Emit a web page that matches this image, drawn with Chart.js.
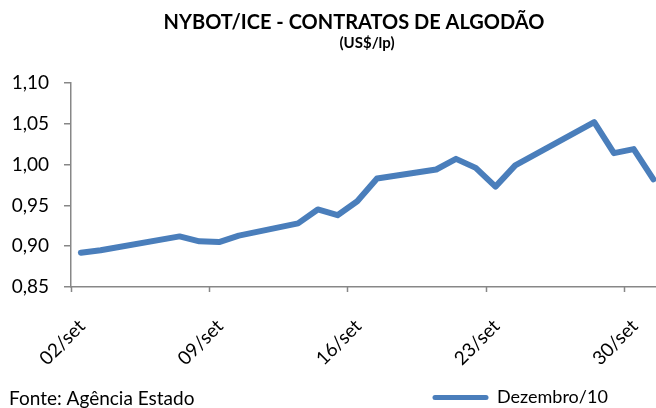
<!DOCTYPE html>
<html>
<head>
<meta charset="utf-8">
<script src="https://cdn.jsdelivr.net/npm/chart.js@4.4.0/dist/chart.umd.min.js"></script>
<style>
  html, body { margin: 0; padding: 0; background: #fff; overflow: hidden; }
</style>
</head>
<body>
<canvas id="chart" width="656" height="408"></canvas>
<script>
// trading days, counted in days from 02/set
const tradingDays = [0, 1, 5, 6, 7, 8, 11, 12, 13, 14, 15, 18, 19, 20, 21, 22, 26, 27, 28, 29];
const dezembro10 = [0.892, 0.895, 0.912, 0.906, 0.905, 0.913, 0.928, 0.945, 0.938, 0.955,
                    0.983, 0.994, 1.007, 0.996, 0.973, 0.999, 1.052, 1.014, 1.019, 0.982];
const tickDays = [0, 7, 14, 21, 28];
const tickLabels = ["02/set", "09/set", "16/set", "23/set", "30/set"];

const FONT = "Lato, 'Open Sans', sans-serif";
const AXIS_GRAY = "#878787";
const LINE_BLUE = "#4a7ebb";

// tick marks sit on the day boundaries, labels on the day itself
const dayTicks = {
  id: "dayTicks",
  afterDatasetsDraw(chart) {
    const { ctx, scales: { x, y } } = chart;
    ctx.save();
    ctx.strokeStyle = AXIS_GRAY;
    ctx.lineWidth = 1.5;
    tickDays.forEach((d) => {
      const px = Math.round(x.getPixelForValue(d - 0.5)) + 0.5;
      ctx.beginPath();
      ctx.moveTo(px, y.bottom);
      ctx.lineTo(px, y.bottom + 5);
      ctx.stroke();
    });
    ctx.restore();
  }
};

// titles, source and legend
const annotations = {
  id: "annotations",
  afterDraw(chart) {
    const ctx = chart.ctx;
    ctx.save();
    ctx.fillStyle = "#000";
    ctx.textAlign = "center";
    ctx.textBaseline = "alphabetic";
    ctx.font = "bold 20px " + FONT;
    ctx.fillText("NYBOT/ICE - CONTRATOS DE ALGODÃO", 354, 29);
    ctx.font = "bold 15px " + FONT;
    ctx.fillText("(US$/lp)", 367, 48);

    ctx.textAlign = "left";
    ctx.font = "19px " + FONT;
    ctx.fillText("Fonte: Agência Estado", 9, 405);

    const ds = chart.data.datasets[0];
    ctx.font = "18px " + FONT;
    ctx.strokeStyle = ds.borderColor;
    ctx.lineWidth = 5;
    ctx.lineCap = "round";
    ctx.beginPath();
    ctx.moveTo(435, 397.5);
    ctx.lineTo(486, 397.5);
    ctx.stroke();
    ctx.fillText(ds.label, 497, 403);
    ctx.restore();
  }
};

new Chart(document.getElementById("chart"), {
  type: "line",
  data: {
    datasets: [{
      label: "Dezembro/10",
      data: tradingDays.map((d, i) => ({ x: d, y: dezembro10[i] })),
      borderColor: LINE_BLUE,
      borderWidth: 6,
      borderJoinStyle: "round",
      borderCapStyle: "round",
      pointRadius: 0,
      tension: 0
    }]
  },
  options: {
    responsive: false,
    animation: false,
    events: [],
    layout: { padding: { top: 83, left: 0, right: 0, bottom: 0 } },
    plugins: {
      legend: { display: false },
      title: { display: false },
      tooltip: { enabled: false }
    },
    scales: {
      x: {
        type: "linear",
        min: -0.5,
        max: 29.13,
        afterBuildTicks: (scale) => {
          scale.ticks = tickDays.map((d) => ({ value: d }));
        },
        afterFit: (scale) => {
          scale.height = 121;
          scale.paddingLeft = 0;
          scale.paddingRight = 0;
        },
        grid: { drawOnChartArea: false, drawTicks: false },
        border: { color: AXIS_GRAY, width: 1.5 },
        ticks: {
          autoSkip: false,
          maxRotation: 45,
          minRotation: 45,
          padding: 28,
          labelOffset: 1,
          color: "#000",
          font: { family: FONT, size: 19 },
          callback: (value) => tickLabels[tickDays.indexOf(value)]
        }
      },
      y: {
        min: 0.85,
        max: 1.10,
        afterFit: (scale) => { scale.width = 71; },
        grid: { drawOnChartArea: false, tickLength: 7, tickColor: AXIS_GRAY, lineWidth: 1.5 },
        border: { color: AXIS_GRAY, width: 1.5 },
        ticks: {
          stepSize: 0.05,
          padding: 15,
          color: "#000",
          font: { family: FONT, size: 19 },
          callback: (value) => value.toFixed(2).replace(".", ",")
        }
      }
    }
  },
  plugins: [dayTicks, annotations]
});
</script>
</body>
</html>
